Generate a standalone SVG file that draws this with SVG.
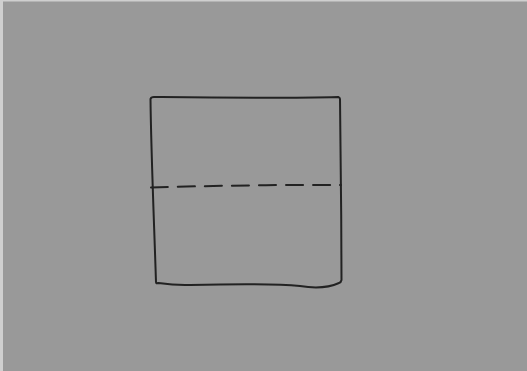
<svg xmlns="http://www.w3.org/2000/svg" width="527" height="371" viewBox="0 0 527 371">
<style>
.ink{fill:none;stroke:#222;stroke-width:2;stroke-linecap:round;stroke-linejoin:round}
.dash{stroke-dasharray:17 10}
</style>
<rect x="0" y="0" width="527" height="371" fill="#cfcfcf"/>
<rect x="3" y="1.5" width="524" height="369.5" fill="#999999"/>
<g id="box">
<path class="ink" d="M150.5,99 Q151,97 154,97 C200,97.5 280,98.5 338.5,97 Q340,98 340,99 C340.5,150 341.5,220 341.5,280 Q341,282.5 339,283 C330,287 318,289 300,286 C270,283 230,284 190,285 C175,285.5 165,284 158,283 Q156,284 156,282 C154,220 151,150 150.5,99 Z"/>
</g>
<g id="connectors">
<path class="ink dash" d="M151,187.5 C200,186 280,184.5 341,185"/>
</g>
</svg>
